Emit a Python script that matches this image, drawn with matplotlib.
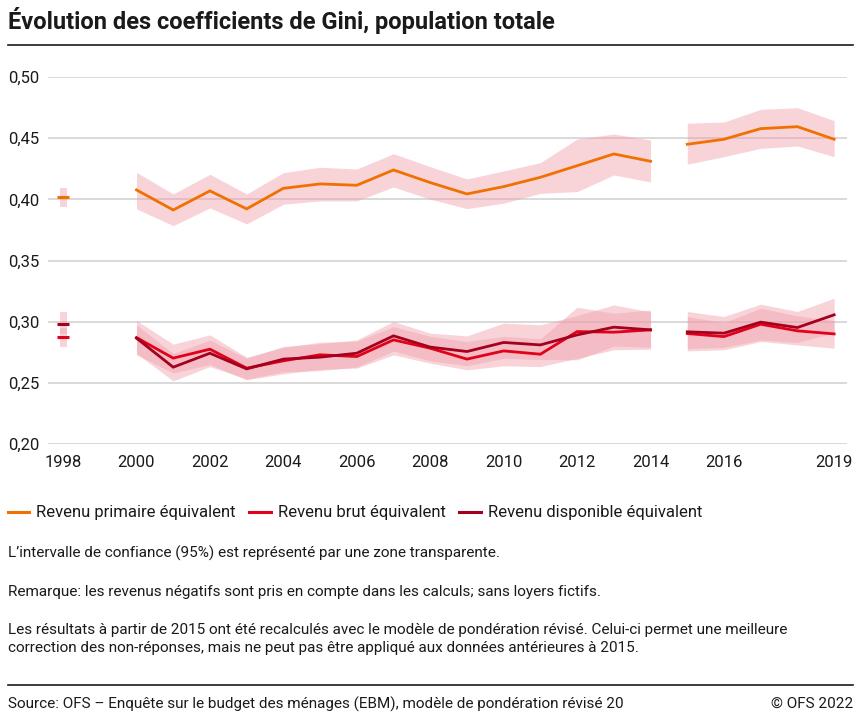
import numpy as np
import matplotlib
matplotlib.use("Agg")
import matplotlib.pyplot as plt
from matplotlib.lines import Line2D

plt.rcParams['font.family'] = ['Roboto', 'DejaVu Sans']

# years: 1998 stands alone, then 2000-2014 and 2015-2019 (revised weighting)
year_1998 = 1998
years_old = list(range(2000, 2015))
years_new = list(range(2015, 2020))

# Revenu primaire équivalent
prim_1998 = [0.4017, 0.3938, 0.4096]  # value, low, high
prim_old = [0.4077, 0.3913, 0.4069, 0.3922, 0.4090, 0.4126, 0.4115, 0.4240,
            0.4137, 0.4044, 0.4104, 0.4180, 0.4275, 0.4371, 0.4311]
prim_old_lo = [0.3922, 0.3785, 0.3930, 0.3799, 0.3960, 0.3987, 0.3987, 0.4101,
               0.4001, 0.3924, 0.3968, 0.4049, 0.4063, 0.4199, 0.4142]
prim_old_hi = [0.4221, 0.4044, 0.4205, 0.4044, 0.4218, 0.4262, 0.4248, 0.4373,
               0.4267, 0.4167, 0.4232, 0.4300, 0.4493, 0.4534, 0.4485]
prim_new = [0.4450, 0.4491, 0.4578, 0.4594, 0.4491]
prim_new_lo = [0.4287, 0.4349, 0.4417, 0.4436, 0.4349]
prim_new_hi = [0.4622, 0.4632, 0.4736, 0.4749, 0.4643]

# Revenu brut équivalent
brut_1998 = [0.2873, 0.2797, 0.2950]
brut_old = [0.2870, 0.2702, 0.2775, 0.2620, 0.2680, 0.2729, 0.2715, 0.2851,
            0.2783, 0.2694, 0.2761, 0.2734, 0.2919, 0.2914, 0.2933]
brut_old_lo = [0.2729, 0.2580, 0.2650, 0.2525, 0.2573, 0.2610, 0.2620, 0.2729,
               0.2661, 0.2606, 0.2639, 0.2633, 0.2700, 0.2770, 0.2775]
brut_old_hi = [0.3009, 0.2816, 0.2892, 0.2710, 0.2790, 0.2832, 0.2840, 0.2960,
               0.2880, 0.2838, 0.2880, 0.2860, 0.3118, 0.3069, 0.3096]
brut_new = [0.2903, 0.2878, 0.2979, 0.2925, 0.2900]
brut_new_lo = [0.2761, 0.2770, 0.2838, 0.2810, 0.2783]
brut_new_hi = [0.3042, 0.2993, 0.3110, 0.3047, 0.3010]

# Revenu disponible équivalent
disp_1998 = [0.2979, 0.2900, 0.3078]
disp_old = [0.2865, 0.2628, 0.2742, 0.2614, 0.2694, 0.2710, 0.2742, 0.2884,
            0.2792, 0.2756, 0.2830, 0.2810, 0.2892, 0.2955, 0.2933]
disp_old_lo = [0.2740, 0.2516, 0.2633, 0.2530, 0.2590, 0.2600, 0.2630, 0.2760,
               0.2680, 0.2640, 0.2700, 0.2690, 0.2688, 0.2800, 0.2790]
disp_old_hi = [0.2974, 0.2740, 0.2850, 0.2700, 0.2797, 0.2820, 0.2851, 0.3001,
               0.2906, 0.2884, 0.2988, 0.2974, 0.3050, 0.3137, 0.3080]
disp_new = [0.2917, 0.2906, 0.2996, 0.2952, 0.3056]
disp_new_lo = [0.2780, 0.2790, 0.2850, 0.2830, 0.2910]
disp_new_hi = [0.3083, 0.3042, 0.3143, 0.3083, 0.3192]

xtick_years = [1998, 2000, 2002, 2004, 2006, 2008, 2010, 2012, 2014, 2016, 2019]
ytick_vals = [0.20, 0.25, 0.30, 0.35, 0.40, 0.45, 0.50]

c_prim = '#f07000'
c_brut = '#e2001a'
c_disp = '#a5001e'
c_band = '#f0a0ac'
band_alpha = 0.45
txt = '#1a1a1a'

fig = plt.figure(figsize=(8.62, 7.21), dpi=100)
ax = fig.add_axes([48 / 862, 1 - 444 / 721, (847 - 48) / 862, (444 - 77) / 721])

series = [
    (prim_1998, prim_old, prim_old_lo, prim_old_hi, prim_new, prim_new_lo, prim_new_hi, c_prim),
    (brut_1998, brut_old, brut_old_lo, brut_old_hi, brut_new, brut_new_lo, brut_new_hi, c_brut),
    (disp_1998, disp_old, disp_old_lo, disp_old_hi, disp_new, disp_new_lo, disp_new_hi, c_disp),
]

for s98, old, old_lo, old_hi, new, new_lo, new_hi, col in series:
    ax.fill_between(years_old, old_lo, old_hi, color=c_band, alpha=band_alpha, lw=0, zorder=2)
    ax.fill_between(years_new, new_lo, new_hi, color=c_band, alpha=band_alpha, lw=0, zorder=2)
    ax.bar(year_1998, s98[2] - s98[1], bottom=s98[1], width=0.19, color=c_band,
           alpha=band_alpha, lw=0, zorder=2)

for s98, old, old_lo, old_hi, new, new_lo, new_hi, col in series:
    ax.plot(years_old, old, color=col, lw=2.0, zorder=4, solid_joinstyle='miter')
    ax.plot(years_new, new, color=col, lw=2.0, zorder=4, solid_joinstyle='miter')
    ax.plot([year_1998], [s98[0]], marker='_', markersize=8, mew=2.2, color=col, zorder=4)

ax.set_xlim(1997.59, 2019.35)
ax.set_ylim(0.20, 0.50)
ax.set_yticks(ytick_vals)
ax.set_yticklabels([f"{v:.2f}".replace('.', ',') for v in ytick_vals])
ax.set_xticks(xtick_years)
ax.set_xticklabels([str(y) for y in xtick_years])
ax.grid(axis='y', color='#cfcfcf', lw=1.1, zorder=0)
ax.set_axisbelow(True)
for sp in ax.spines.values():
    sp.set_visible(False)
ax.tick_params(axis='both', length=0, labelsize=12, colors=txt)
ax.tick_params(axis='y', pad=6)
ax.tick_params(axis='x', pad=8)
for art in ax.lines + ax.collections:
    art.set_clip_on(False)

# title and rules
fig.text(8 / 862, 1 - 21 / 721, "Évolution des coefficients de Gini, population totale",
         fontsize=17, fontweight='bold', color=txt, va='center', ha='left')
fig.add_artist(Line2D([8 / 862, 853 / 862], [1 - 45 / 721] * 2, color=txt, lw=1.2))
fig.add_artist(Line2D([8 / 862, 853 / 862], [1 - 685 / 721] * 2, color=txt, lw=1.2))

# legend
handles = [Line2D([], [], color=c_prim, lw=2.2),
           Line2D([], [], color=c_brut, lw=2.2),
           Line2D([], [], color=c_disp, lw=2.2)]
labels = ["Revenu primaire équivalent", "Revenu brut équivalent", "Revenu disponible équivalent"]
fig.legend(handles, labels, loc='center left', bbox_to_anchor=(6 / 862, 1 - 513 / 721), ncol=3,
           frameon=False, fontsize=12, handlelength=1.3, handletextpad=0.42,
           columnspacing=0.8, borderaxespad=0, borderpad=0.1, labelcolor=txt)

notes = [
    (553, "L’intervalle de confiance (95%) est représenté par une zone transparente."),
    (592, "Remarque: les revenus négatifs sont pris en compte dans les calculs; sans loyers fictifs."),
    (630, "Les résultats à partir de 2015 ont été recalculés avec le modèle de pondération révisé. Celui-ci permet une meilleure"),
    (648, "correction des non-réponses, mais ne peut pas être appliqué aux données antérieures à 2015."),
]
for ypix, t in notes:
    fig.text(8 / 862, 1 - ypix / 721, t, fontsize=11, color=txt, va='center', ha='left')

fig.text(8 / 862, 1 - 704 / 721,
         "Source: OFS – Enquête sur le budget des ménages (EBM), modèle de pondération révisé 20",
         fontsize=11, color=txt, va='center', ha='left')
fig.text(853 / 862, 1 - 704 / 721, "© OFS 2022", fontsize=11, color=txt, va='center', ha='right')

fig.savefig("out.png", dpi=100)
